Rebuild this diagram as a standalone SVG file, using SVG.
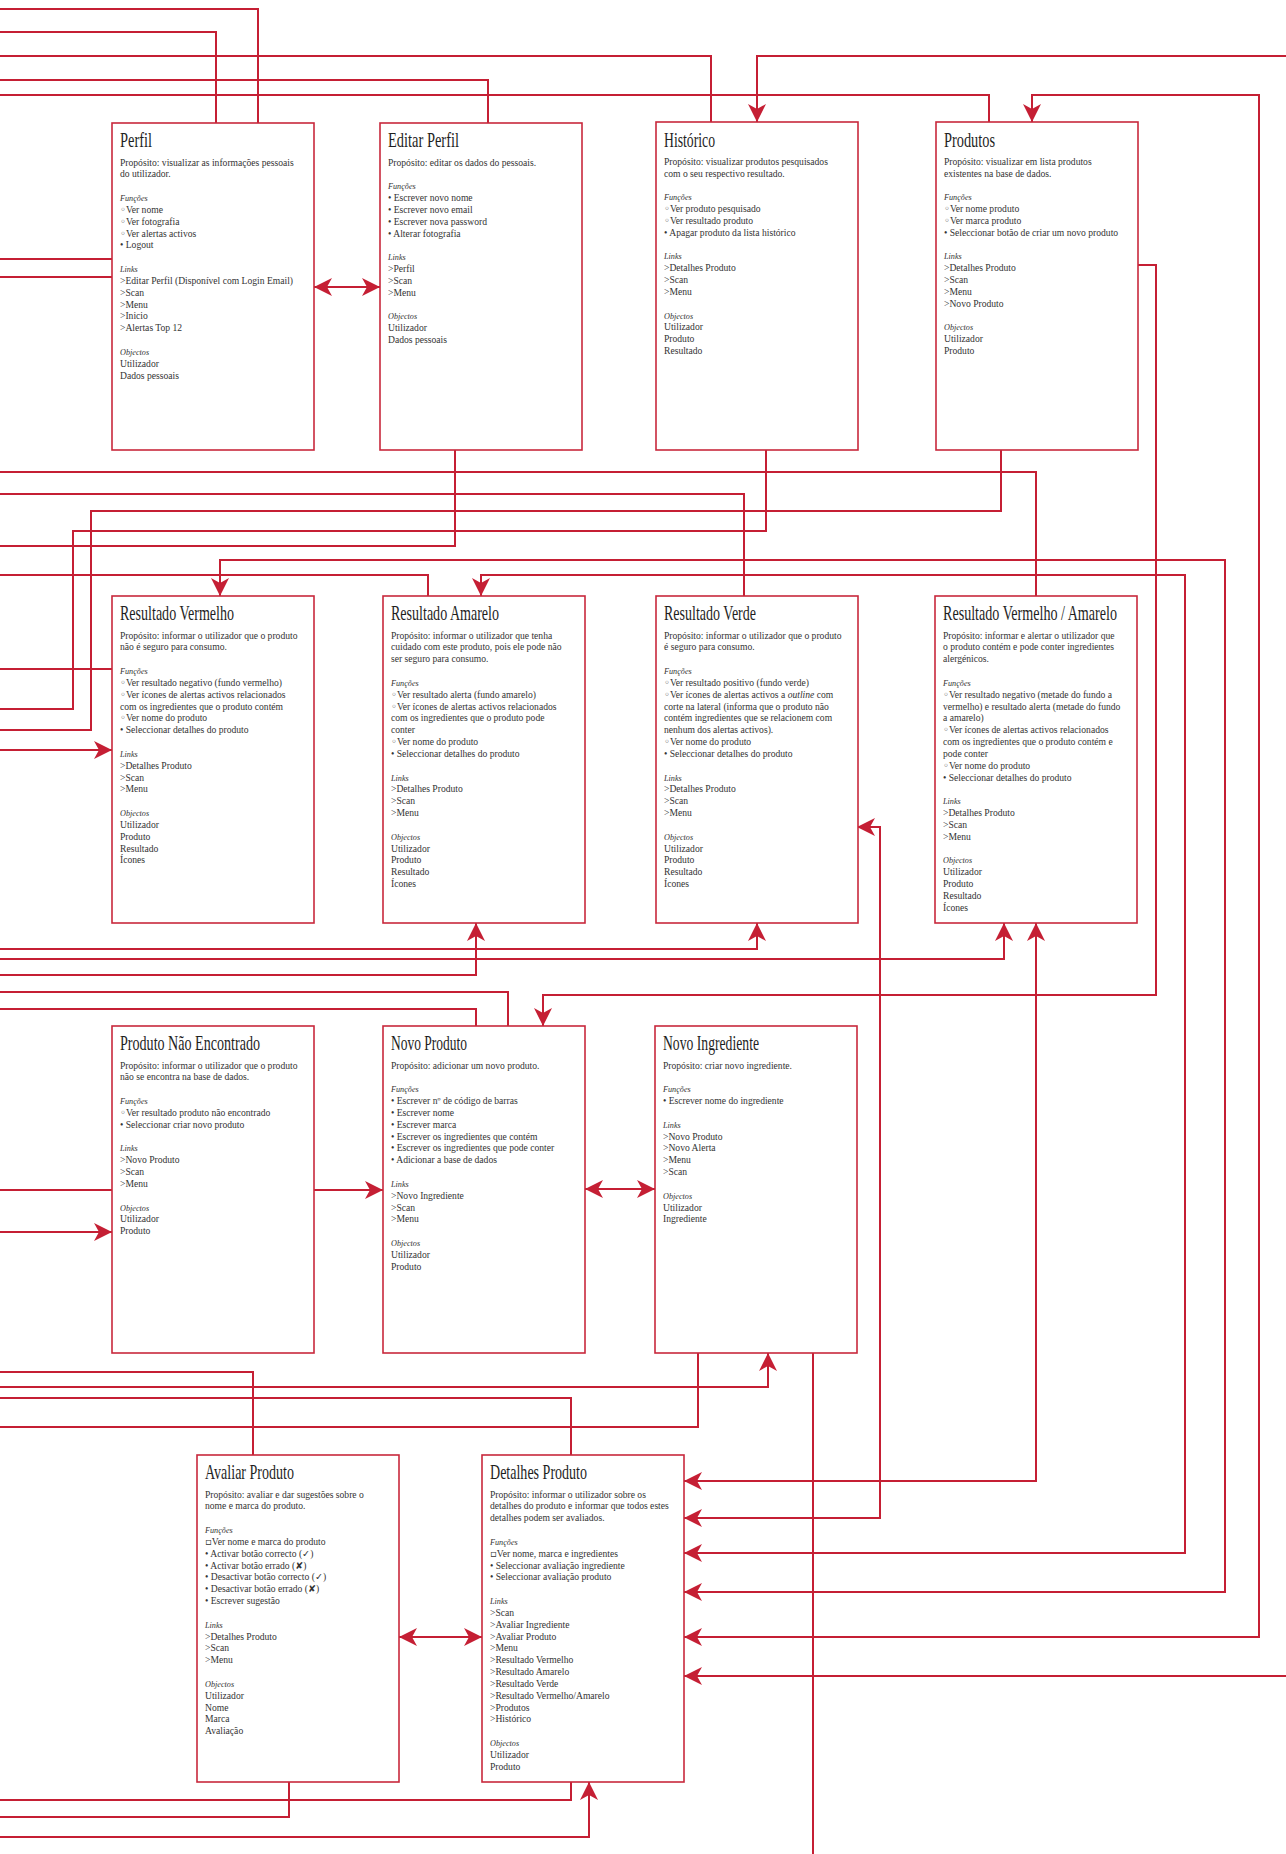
<svg xmlns="http://www.w3.org/2000/svg" width="1286" height="1854" viewBox="0 0 1286 1854">
<style>
.box{fill:#fff;stroke:#c8283c;stroke-width:1.6}
.t{font-family:"Liberation Serif","DejaVu Serif",serif;font-size:21px;fill:#1e1e1e}
.b{font-family:"Liberation Serif","DejaVu Sans",serif;font-size:9.6px;fill:#333}
.i{font-style:italic;font-size:8.2px}
.o{font-family:"DejaVu Sans",sans-serif;font-size:10px}
.c{fill:none;stroke:#c51f34;stroke-width:2}
.a{marker-end:url(#ah)}
.s{marker-start:url(#ah)}
</style>
<defs>
<marker id="ah" viewBox="0 0 18 18" markerWidth="18" markerHeight="18" refX="18" refY="9" orient="auto-start-reverse" markerUnits="userSpaceOnUse">
<path d="M0,0 L18,9 L0,18 L5,9 Z" fill="#c51f34"/>
</marker>
</defs>
<rect width="1286" height="1854" fill="#fff"/>

<g id="connectors">
<path class="c" d="M0,9 H258 V123"/>
<path class="c" d="M0,32 H216 V123"/>
<path class="c" d="M0,56 H711 V122"/>
<path class="c a" d="M1286,56 H757 V122"/>
<path class="c" d="M0,80 H488 V123"/>
<path class="c" d="M0,95 H989 V122"/>
<path class="c a s" d="M684,1637 H1259 V95 H1032 V122"/>
<path class="c" d="M0,259 H112"/>
<path class="c" d="M0,277 H112"/>
<path class="c a s" d="M314,287 H380"/>
<path class="c" d="M0,472 H1036 V596"/>
<path class="c" d="M0,494 H744 V596"/>
<path class="c" d="M1001,450 V511 H91 V730 H0"/>
<path class="c" d="M766,450 V531 H73 V709 H0"/>
<path class="c" d="M455,450 V546 H0"/>
<path class="c a s" d="M220,596 V560 H1225 V1592 H684"/>
<path class="c" d="M0,575 H428 V596"/>
<path class="c a s" d="M481,596 V575 H1185 V1553 H684"/>
<path class="c" d="M0,669 H112"/>
<path class="c a" d="M0,750 H112"/>
<path class="c a" d="M0,949 H757 V923"/>
<path class="c a" d="M0,959 H1004 V923"/>
<path class="c a" d="M0,975 H476 V923"/>
<path class="c" d="M0,992 H508 V1026"/>
<path class="c" d="M0,1009 H476 V1026"/>
<path class="c a" d="M1138,265 H1156 V995 H543 V1026"/>
<path class="c a s" d="M1036,923 V1481 H684"/>
<path class="c a s" d="M857,827 H880 V1518 H684"/>
<path class="c a" d="M1286,1676 H684"/>
<path class="c" d="M0,1190 H112"/>
<path class="c a" d="M0,1232 H112"/>
<path class="c a" d="M314,1190 H383"/>
<path class="c a s" d="M585,1189 H655"/>
<path class="c" d="M0,1372 H253 V1455"/>
<path class="c a" d="M0,1387 H768 V1353"/>
<path class="c" d="M0,1398 H571 V1455"/>
<path class="c" d="M0,1427 H698 V1353"/>
<path class="c" d="M813,1353 V1854"/>
<path class="c a s" d="M399,1637 H482"/>
<path class="c" d="M571,1782 V1800 H0"/>
<path class="c" d="M289,1782 V1817 H0"/>
<path class="c a" d="M0,1837 H589 V1782"/>
</g>

<g id="perfil">
<rect class="box" x="112" y="123" width="202" height="327"/>
<text class="t" x="120" y="147.4" textLength="32" lengthAdjust="spacingAndGlyphs">Perfil</text>
<text class="b" x="120" y="165.6">
<tspan x="120">Propósito: visualizar as informações pessoais</tspan>
<tspan x="120" dy="11.83">do utilizador.</tspan>
<tspan x="120" dy="23.66" class="i">Funções</tspan>
<tspan x="120" dy="11.83"><tspan class="o">◦</tspan>Ver nome</tspan>
<tspan x="120" dy="11.83"><tspan class="o">◦</tspan>Ver fotografia</tspan>
<tspan x="120" dy="11.83"><tspan class="o">◦</tspan>Ver alertas activos</tspan>
<tspan x="120" dy="11.83">• Logout</tspan>
<tspan x="120" dy="23.66" class="i">Links</tspan>
<tspan x="120" dy="11.83">&gt;Editar Perfil (Disponível com Login Email)</tspan>
<tspan x="120" dy="11.83">&gt;Scan</tspan>
<tspan x="120" dy="11.83">&gt;Menu</tspan>
<tspan x="120" dy="11.83">&gt;Inicio</tspan>
<tspan x="120" dy="11.83">&gt;Alertas Top 12</tspan>
<tspan x="120" dy="23.66" class="i">Objectos</tspan>
<tspan x="120" dy="11.83">Utilizador</tspan>
<tspan x="120" dy="11.83">Dados pessoais</tspan>
</text>
</g>

<g id="editar-perfil">
<rect class="box" x="380" y="123" width="202" height="327"/>
<text class="t" x="388" y="147.4" textLength="71" lengthAdjust="spacingAndGlyphs">Editar Perfil</text>
<text class="b" x="388" y="165.6">
<tspan x="388">Propósito: editar os dados do pessoais.</tspan>
<tspan x="388" dy="23.66" class="i">Funções</tspan>
<tspan x="388" dy="11.83">• Escrever novo nome</tspan>
<tspan x="388" dy="11.83">• Escrever novo email</tspan>
<tspan x="388" dy="11.83">• Escrever nova password</tspan>
<tspan x="388" dy="11.83">• Alterar fotografia</tspan>
<tspan x="388" dy="23.66" class="i">Links</tspan>
<tspan x="388" dy="11.83">&gt;Perfil</tspan>
<tspan x="388" dy="11.83">&gt;Scan</tspan>
<tspan x="388" dy="11.83">&gt;Menu</tspan>
<tspan x="388" dy="23.66" class="i">Objectos</tspan>
<tspan x="388" dy="11.83">Utilizador</tspan>
<tspan x="388" dy="11.83">Dados pessoais</tspan>
</text>
</g>

<g id="historico">
<rect class="box" x="656" y="122" width="202" height="328"/>
<text class="t" x="664" y="146.6" textLength="51" lengthAdjust="spacingAndGlyphs">Histórico</text>
<text class="b" x="664" y="164.8">
<tspan x="664">Propósito: visualizar produtos pesquisados</tspan>
<tspan x="664" dy="11.83">com o seu respectivo resultado.</tspan>
<tspan x="664" dy="23.66" class="i">Funções</tspan>
<tspan x="664" dy="11.83"><tspan class="o">◦</tspan>Ver produto pesquisado</tspan>
<tspan x="664" dy="11.83"><tspan class="o">◦</tspan>Ver resultado produto</tspan>
<tspan x="664" dy="11.83">• Apagar produto da lista histórico</tspan>
<tspan x="664" dy="23.66" class="i">Links</tspan>
<tspan x="664" dy="11.83">&gt;Detalhes Produto</tspan>
<tspan x="664" dy="11.83">&gt;Scan</tspan>
<tspan x="664" dy="11.83">&gt;Menu</tspan>
<tspan x="664" dy="23.66" class="i">Objectos</tspan>
<tspan x="664" dy="11.83">Utilizador</tspan>
<tspan x="664" dy="11.83">Produto</tspan>
<tspan x="664" dy="11.83">Resultado</tspan>
</text>
</g>

<g id="produtos">
<rect class="box" x="936" y="122" width="202" height="328"/>
<text class="t" x="944" y="146.6" textLength="51" lengthAdjust="spacingAndGlyphs">Produtos</text>
<text class="b" x="944" y="164.8">
<tspan x="944">Propósito: visualizar em lista produtos</tspan>
<tspan x="944" dy="11.83">existentes na base de dados.</tspan>
<tspan x="944" dy="23.66" class="i">Funções</tspan>
<tspan x="944" dy="11.83"><tspan class="o">◦</tspan>Ver nome produto</tspan>
<tspan x="944" dy="11.83"><tspan class="o">◦</tspan>Ver marca produto</tspan>
<tspan x="944" dy="11.83">• Seleccionar botão de criar um novo produto</tspan>
<tspan x="944" dy="23.66" class="i">Links</tspan>
<tspan x="944" dy="11.83">&gt;Detalhes Produto</tspan>
<tspan x="944" dy="11.83">&gt;Scan</tspan>
<tspan x="944" dy="11.83">&gt;Menu</tspan>
<tspan x="944" dy="11.83">&gt;Novo Produto</tspan>
<tspan x="944" dy="23.66" class="i">Objectos</tspan>
<tspan x="944" dy="11.83">Utilizador</tspan>
<tspan x="944" dy="11.83">Produto</tspan>
</text>
</g>

<g id="resultado-vermelho">
<rect class="box" x="112" y="596" width="202" height="327"/>
<text class="t" x="120" y="620.4" textLength="114" lengthAdjust="spacingAndGlyphs">Resultado Vermelho</text>
<text class="b" x="120" y="638.6">
<tspan x="120">Propósito: informar o utilizador que o produto</tspan>
<tspan x="120" dy="11.83">não é seguro para consumo.</tspan>
<tspan x="120" dy="23.66" class="i">Funções</tspan>
<tspan x="120" dy="11.83"><tspan class="o">◦</tspan>Ver resultado negativo (fundo vermelho)</tspan>
<tspan x="120" dy="11.83"><tspan class="o">◦</tspan>Ver ícones de alertas activos relacionados</tspan>
<tspan x="120" dy="11.83">com os ingredientes que o produto contém</tspan>
<tspan x="120" dy="11.83"><tspan class="o">◦</tspan>Ver nome do produto</tspan>
<tspan x="120" dy="11.83">• Seleccionar detalhes do produto</tspan>
<tspan x="120" dy="23.66" class="i">Links</tspan>
<tspan x="120" dy="11.83">&gt;Detalhes Produto</tspan>
<tspan x="120" dy="11.83">&gt;Scan</tspan>
<tspan x="120" dy="11.83">&gt;Menu</tspan>
<tspan x="120" dy="23.66" class="i">Objectos</tspan>
<tspan x="120" dy="11.83">Utilizador</tspan>
<tspan x="120" dy="11.83">Produto</tspan>
<tspan x="120" dy="11.83">Resultado</tspan>
<tspan x="120" dy="11.83">Ícones</tspan>
</text>
</g>

<g id="resultado-amarelo">
<rect class="box" x="383" y="596" width="202" height="327"/>
<text class="t" x="391" y="620.4" textLength="108" lengthAdjust="spacingAndGlyphs">Resultado Amarelo</text>
<text class="b" x="391" y="638.6">
<tspan x="391">Propósito: informar o utilizador que tenha</tspan>
<tspan x="391" dy="11.83">cuidado com este produto, pois ele pode não</tspan>
<tspan x="391" dy="11.83">ser seguro para consumo.</tspan>
<tspan x="391" dy="23.66" class="i">Funções</tspan>
<tspan x="391" dy="11.83"><tspan class="o">◦</tspan>Ver resultado alerta (fundo amarelo)</tspan>
<tspan x="391" dy="11.83"><tspan class="o">◦</tspan>Ver ícones de alertas activos relacionados</tspan>
<tspan x="391" dy="11.83">com os ingredientes que o produto pode</tspan>
<tspan x="391" dy="11.83">conter</tspan>
<tspan x="391" dy="11.83"><tspan class="o">◦</tspan>Ver nome do produto</tspan>
<tspan x="391" dy="11.83">• Seleccionar detalhes do produto</tspan>
<tspan x="391" dy="23.66" class="i">Links</tspan>
<tspan x="391" dy="11.83">&gt;Detalhes Produto</tspan>
<tspan x="391" dy="11.83">&gt;Scan</tspan>
<tspan x="391" dy="11.83">&gt;Menu</tspan>
<tspan x="391" dy="23.66" class="i">Objectos</tspan>
<tspan x="391" dy="11.83">Utilizador</tspan>
<tspan x="391" dy="11.83">Produto</tspan>
<tspan x="391" dy="11.83">Resultado</tspan>
<tspan x="391" dy="11.83">Ícones</tspan>
</text>
</g>

<g id="resultado-verde">
<rect class="box" x="656" y="596" width="202" height="327"/>
<text class="t" x="664" y="620.4" textLength="92" lengthAdjust="spacingAndGlyphs">Resultado Verde</text>
<text class="b" x="664" y="638.6">
<tspan x="664">Propósito: informar o utilizador que o produto</tspan>
<tspan x="664" dy="11.83">é seguro para consumo.</tspan>
<tspan x="664" dy="23.66" class="i">Funções</tspan>
<tspan x="664" dy="11.83"><tspan class="o">◦</tspan>Ver resultado positivo (fundo verde)</tspan>
<tspan x="664" dy="11.83"><tspan class="o">◦</tspan>Ver ícones de alertas activos a <tspan font-style="italic">outline</tspan> com</tspan>
<tspan x="664" dy="11.83">corte na lateral (informa que o produto não</tspan>
<tspan x="664" dy="11.83">contém ingredientes que se relacionem com</tspan>
<tspan x="664" dy="11.83">nenhum dos alertas activos).</tspan>
<tspan x="664" dy="11.83"><tspan class="o">◦</tspan>Ver nome do produto</tspan>
<tspan x="664" dy="11.83">• Seleccionar detalhes do produto</tspan>
<tspan x="664" dy="23.66" class="i">Links</tspan>
<tspan x="664" dy="11.83">&gt;Detalhes Produto</tspan>
<tspan x="664" dy="11.83">&gt;Scan</tspan>
<tspan x="664" dy="11.83">&gt;Menu</tspan>
<tspan x="664" dy="23.66" class="i">Objectos</tspan>
<tspan x="664" dy="11.83">Utilizador</tspan>
<tspan x="664" dy="11.83">Produto</tspan>
<tspan x="664" dy="11.83">Resultado</tspan>
<tspan x="664" dy="11.83">Ícones</tspan>
</text>
</g>

<g id="resultado-vermelho-amarelo">
<rect class="box" x="935" y="596" width="202" height="327"/>
<text class="t" x="943" y="620.4" textLength="174" lengthAdjust="spacingAndGlyphs">Resultado Vermelho / Amarelo</text>
<text class="b" x="943" y="638.6">
<tspan x="943">Propósito: informar e alertar o utilizador que</tspan>
<tspan x="943" dy="11.83">o produto contém e pode conter ingredientes</tspan>
<tspan x="943" dy="11.83">alergénicos.</tspan>
<tspan x="943" dy="23.66" class="i">Funções</tspan>
<tspan x="943" dy="11.83"><tspan class="o">◦</tspan>Ver resultado negativo (metade do fundo a</tspan>
<tspan x="943" dy="11.83">vermelho) e resultado alerta (metade do fundo</tspan>
<tspan x="943" dy="11.83">a amarelo)</tspan>
<tspan x="943" dy="11.83"><tspan class="o">◦</tspan>Ver ícones de alertas activos relacionados</tspan>
<tspan x="943" dy="11.83">com os ingredientes que o produto contém e</tspan>
<tspan x="943" dy="11.83">pode conter</tspan>
<tspan x="943" dy="11.83"><tspan class="o">◦</tspan>Ver nome do produto</tspan>
<tspan x="943" dy="11.83">• Seleccionar detalhes do produto</tspan>
<tspan x="943" dy="23.66" class="i">Links</tspan>
<tspan x="943" dy="11.83">&gt;Detalhes Produto</tspan>
<tspan x="943" dy="11.83">&gt;Scan</tspan>
<tspan x="943" dy="11.83">&gt;Menu</tspan>
<tspan x="943" dy="23.66" class="i">Objectos</tspan>
<tspan x="943" dy="11.83">Utilizador</tspan>
<tspan x="943" dy="11.83">Produto</tspan>
<tspan x="943" dy="11.83">Resultado</tspan>
<tspan x="943" dy="11.83">Ícones</tspan>
</text>
</g>

<g id="produto-nao-encontrado">
<rect class="box" x="112" y="1026" width="202" height="327"/>
<text class="t" x="120" y="1050.4" textLength="140" lengthAdjust="spacingAndGlyphs">Produto Não Encontrado</text>
<text class="b" x="120" y="1068.6">
<tspan x="120">Propósito: informar o utilizador que o produto</tspan>
<tspan x="120" dy="11.83">não se encontra na base de dados.</tspan>
<tspan x="120" dy="23.66" class="i">Funções</tspan>
<tspan x="120" dy="11.83"><tspan class="o">◦</tspan>Ver resultado produto não encontrado</tspan>
<tspan x="120" dy="11.83">• Seleccionar criar novo produto</tspan>
<tspan x="120" dy="23.66" class="i">Links</tspan>
<tspan x="120" dy="11.83">&gt;Novo Produto</tspan>
<tspan x="120" dy="11.83">&gt;Scan</tspan>
<tspan x="120" dy="11.83">&gt;Menu</tspan>
<tspan x="120" dy="23.66" class="i">Objectos</tspan>
<tspan x="120" dy="11.83">Utilizador</tspan>
<tspan x="120" dy="11.83">Produto</tspan>
</text>
</g>

<g id="novo-produto">
<rect class="box" x="383" y="1026" width="202" height="327"/>
<text class="t" x="391" y="1050.4" textLength="76" lengthAdjust="spacingAndGlyphs">Novo Produto</text>
<text class="b" x="391" y="1068.6">
<tspan x="391">Propósito: adicionar um novo produto.</tspan>
<tspan x="391" dy="23.66" class="i">Funções</tspan>
<tspan x="391" dy="11.83">• Escrever nº de código de barras</tspan>
<tspan x="391" dy="11.83">• Escrever nome</tspan>
<tspan x="391" dy="11.83">• Escrever marca</tspan>
<tspan x="391" dy="11.83">• Escrever os ingredientes que contém</tspan>
<tspan x="391" dy="11.83">• Escrever os ingredientes que pode conter</tspan>
<tspan x="391" dy="11.83">• Adicionar a base de dados</tspan>
<tspan x="391" dy="23.66" class="i">Links</tspan>
<tspan x="391" dy="11.83">&gt;Novo Ingrediente</tspan>
<tspan x="391" dy="11.83">&gt;Scan</tspan>
<tspan x="391" dy="11.83">&gt;Menu</tspan>
<tspan x="391" dy="23.66" class="i">Objectos</tspan>
<tspan x="391" dy="11.83">Utilizador</tspan>
<tspan x="391" dy="11.83">Produto</tspan>
</text>
</g>

<g id="novo-ingrediente">
<rect class="box" x="655" y="1026" width="202" height="327"/>
<text class="t" x="663" y="1050.4" textLength="96" lengthAdjust="spacingAndGlyphs">Novo Ingrediente</text>
<text class="b" x="663" y="1068.6">
<tspan x="663">Propósito: criar novo ingrediente.</tspan>
<tspan x="663" dy="23.66" class="i">Funções</tspan>
<tspan x="663" dy="11.83">• Escrever nome do ingrediente</tspan>
<tspan x="663" dy="23.66" class="i">Links</tspan>
<tspan x="663" dy="11.83">&gt;Novo Produto</tspan>
<tspan x="663" dy="11.83">&gt;Novo Alerta</tspan>
<tspan x="663" dy="11.83">&gt;Menu</tspan>
<tspan x="663" dy="11.83">&gt;Scan</tspan>
<tspan x="663" dy="23.66" class="i">Objectos</tspan>
<tspan x="663" dy="11.83">Utilizador</tspan>
<tspan x="663" dy="11.83">Ingrediente</tspan>
</text>
</g>

<g id="avaliar-produto">
<rect class="box" x="197" y="1455" width="202" height="327"/>
<text class="t" x="205" y="1479.4" textLength="89" lengthAdjust="spacingAndGlyphs">Avaliar Produto</text>
<text class="b" x="205" y="1497.6">
<tspan x="205">Propósito: avaliar e dar sugestões sobre o</tspan>
<tspan x="205" dy="11.83">nome e marca do produto.</tspan>
<tspan x="205" dy="23.66" class="i">Funções</tspan>
<tspan x="205" dy="11.83"><tspan class="o">▫</tspan>Ver nome e marca do produto</tspan>
<tspan x="205" dy="11.83">• Activar botão correcto (✓)</tspan>
<tspan x="205" dy="11.83">• Activar botão errado (✘)</tspan>
<tspan x="205" dy="11.83">• Desactivar botão correcto (✓)</tspan>
<tspan x="205" dy="11.83">• Desactivar botão errado (✘)</tspan>
<tspan x="205" dy="11.83">• Escrever sugestão</tspan>
<tspan x="205" dy="23.66" class="i">Links</tspan>
<tspan x="205" dy="11.83">&gt;Detalhes Produto</tspan>
<tspan x="205" dy="11.83">&gt;Scan</tspan>
<tspan x="205" dy="11.83">&gt;Menu</tspan>
<tspan x="205" dy="23.66" class="i">Objectos</tspan>
<tspan x="205" dy="11.83">Utilizador</tspan>
<tspan x="205" dy="11.83">Nome</tspan>
<tspan x="205" dy="11.83">Marca</tspan>
<tspan x="205" dy="11.83">Avaliação</tspan>
</text>
</g>

<g id="detalhes-produto">
<rect class="box" x="482" y="1455" width="202" height="327"/>
<text class="t" x="490" y="1479.4" textLength="97" lengthAdjust="spacingAndGlyphs">Detalhes Produto</text>
<text class="b" x="490" y="1497.6">
<tspan x="490">Propósito: informar o utilizador sobre os</tspan>
<tspan x="490" dy="11.83">detalhes do produto e informar que todos estes</tspan>
<tspan x="490" dy="11.83">detalhes podem ser avaliados.</tspan>
<tspan x="490" dy="23.66" class="i">Funções</tspan>
<tspan x="490" dy="11.83"><tspan class="o">▫</tspan>Ver nome, marca e ingredientes</tspan>
<tspan x="490" dy="11.83">• Seleccionar avaliação ingrediente</tspan>
<tspan x="490" dy="11.83">• Seleccionar avaliação produto</tspan>
<tspan x="490" dy="23.66" class="i">Links</tspan>
<tspan x="490" dy="11.83">&gt;Scan</tspan>
<tspan x="490" dy="11.83">&gt;Avaliar Ingrediente</tspan>
<tspan x="490" dy="11.83">&gt;Avaliar Produto</tspan>
<tspan x="490" dy="11.83">&gt;Menu</tspan>
<tspan x="490" dy="11.83">&gt;Resultado Vermelho</tspan>
<tspan x="490" dy="11.83">&gt;Resultado Amarelo</tspan>
<tspan x="490" dy="11.83">&gt;Resultado Verde</tspan>
<tspan x="490" dy="11.83">&gt;Resultado Vermelho/Amarelo</tspan>
<tspan x="490" dy="11.83">&gt;Produtos</tspan>
<tspan x="490" dy="11.83">&gt;Histórico</tspan>
<tspan x="490" dy="23.66" class="i">Objectos</tspan>
<tspan x="490" dy="11.83">Utilizador</tspan>
<tspan x="490" dy="11.83">Produto</tspan>
</text>
</g>
</svg>
